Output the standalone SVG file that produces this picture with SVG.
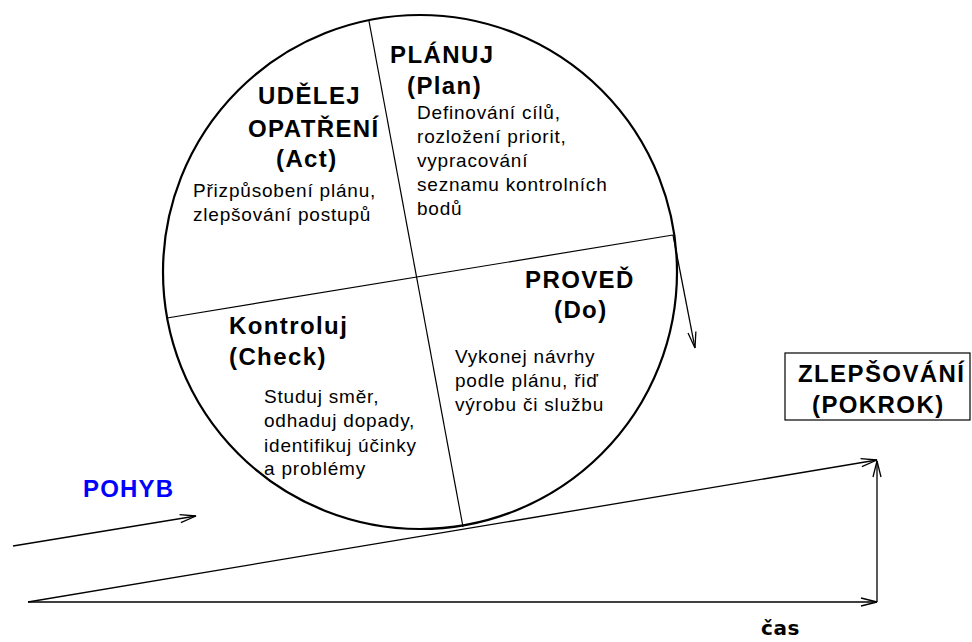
<svg xmlns="http://www.w3.org/2000/svg" width="972" height="642" viewBox="0 0 972 642">
  <style>
    .head { font-family: "Liberation Sans", Arial, sans-serif; font-weight: bold; font-size: 24px; letter-spacing: 1.4px; fill: #000; }
    .desc { font-family: "Liberation Sans", Arial, sans-serif; font-size: 19px; letter-spacing: 0.8px; fill: #000; }
    .move { font-family: "Liberation Sans", Arial, sans-serif; font-weight: bold; font-size: 24px; letter-spacing: 1.2px; fill: #0000ff; }
    .axis { font-family: "DejaVu Sans", Verdana, sans-serif; font-weight: bold; font-size: 20px; letter-spacing: 0.6px; fill: #000; }
    .wheel { fill: none; stroke: #000; stroke-width: 2.2; }
    .split { fill: none; stroke: #000; stroke-width: 1.2; }
    .arrow { fill: none; stroke: #000; stroke-width: 1.3; marker-end: url(#head); }
  </style>
  <defs>
    <marker id="head" markerUnits="userSpaceOnUse" markerWidth="20" markerHeight="12" viewBox="-18 -6 20 12" refX="0" refY="0" orient="auto">
      <path d="M-16,-4 L0,0 L-16,4" fill="none" stroke="#000" stroke-width="1.3"/>
    </marker>
  </defs>
  <rect width="972" height="642" fill="#fff"/>

  <!-- PDCA wheel -->
  <g id="wheel">
    <circle class="wheel" cx="420" cy="272" r="257"/>
    <line class="split" x1="369" y1="21" x2="463" y2="527"/>
    <line class="split" x1="167" y1="318" x2="673" y2="235"/>
  </g>

  <g id="plan">
    <text class="head" x="390" y="63">PLÁNUJ</text>
    <text class="head" x="407" y="94">(Plan)</text>
    <text class="desc" x="417" y="119">Definování cílů,</text>
    <text class="desc" x="417" y="143">rozložení priorit,</text>
    <text class="desc" x="417" y="167">vypracování</text>
    <text class="desc" x="417" y="191">seznamu kontrolních</text>
    <text class="desc" x="417" y="215">bodů</text>
  </g>

  <g id="act">
    <text class="head" x="258" y="104">UDĚLEJ</text>
    <text class="head" x="248" y="137">OPATŘENÍ</text>
    <text class="head" x="276" y="167">(Act)</text>
    <text class="desc" x="193" y="197">Přizpůsobení plánu,</text>
    <text class="desc" x="193" y="221">zlepšování postupů</text>
  </g>

  <g id="do">
    <text class="head" x="525" y="288">PROVEĎ</text>
    <text class="head" x="554" y="318">(Do)</text>
    <text class="desc" x="455" y="363">Vykonej návrhy</text>
    <text class="desc" x="455" y="387">podle plánu, řiď</text>
    <text class="desc" x="455" y="411">výrobu či službu</text>
  </g>

  <g id="check">
    <text class="head" x="229" y="334">Kontroluj</text>
    <text class="head" x="229" y="365">(Check)</text>
    <text class="desc" x="264" y="403">Studuj směr,</text>
    <text class="desc" x="264" y="427">odhaduj dopady,</text>
    <text class="desc" x="264" y="452">identifikuj účinky</text>
    <text class="desc" x="264" y="475">a problémy</text>
  </g>

  <g id="improvement">
    <rect x="785" y="353" width="185" height="67" fill="#fff" stroke="#000" stroke-width="1.2"/>
    <text class="head" x="798" y="382">ZLEPŠOVÁNÍ</text>
    <text class="head" x="812" y="413">(POKROK)</text>
  </g>

  <g id="motion">
    <text class="move" x="83" y="497">POHYB</text>
  </g>

  <g id="time">
    <text class="axis" x="761" y="635">čas</text>
  </g>

  <!-- connectors -->
  <g id="connectors">
    <line class="arrow" x1="673" y1="235" x2="695" y2="348"/>
    <line class="arrow" x1="13" y1="546" x2="196" y2="516"/>
    <line class="arrow" x1="28" y1="602" x2="877" y2="460"/>
    <line class="arrow" x1="28" y1="602" x2="877" y2="602"/>
    <line class="arrow" x1="877" y1="602" x2="877" y2="461" stroke="#555"/>
  </g>
</svg>
